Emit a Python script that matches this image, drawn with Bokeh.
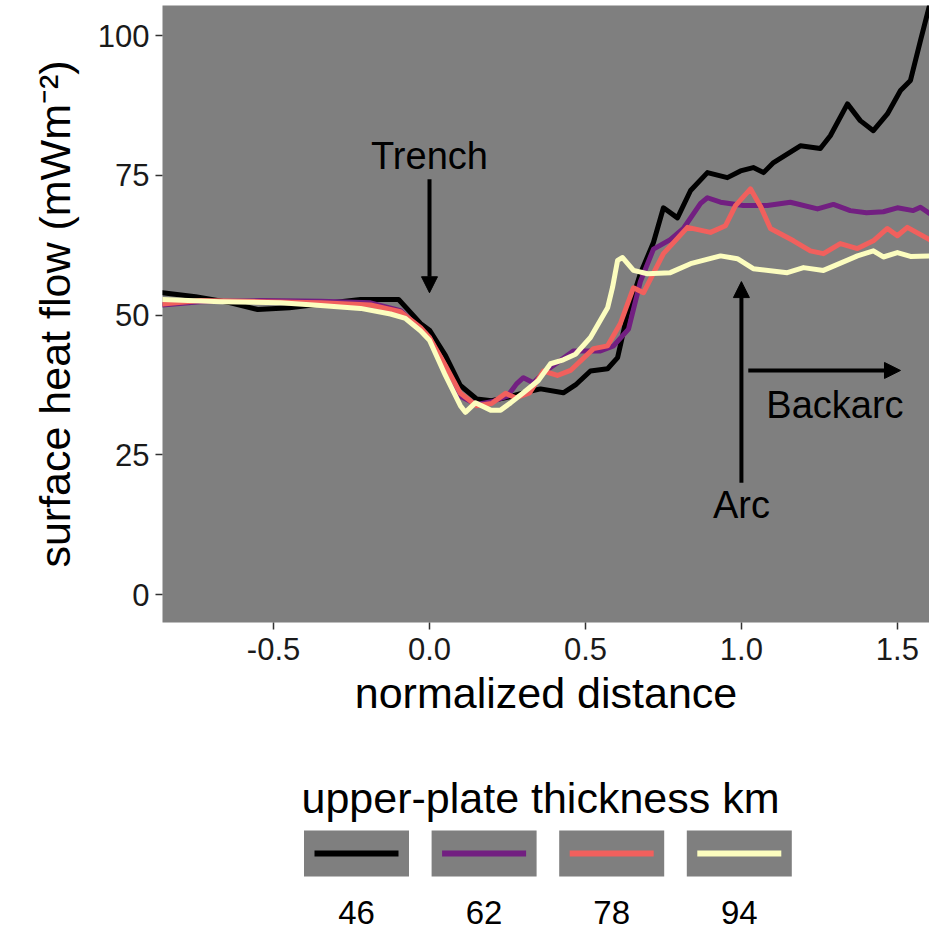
from bokeh.plotting import figure
from bokeh.models import Range1d, FixedTicker, NumeralTickFormatter, Arrow, NormalHead
from bokeh.layouts import column
from bokeh.embed import file_html
from bokeh.resources import INLINE
from bokeh.core.properties import value

FONT = "Liberation Sans"
PANEL = "#7f7f7f"

# ---- data ----
thickness = ["46", "62", "78", "94"]
colors = ["#000000", "#721F81", "#F1605D", "#FCFDBF"]

x46 = [-0.856, -0.75, -0.638, -0.551, -0.449, -0.349, -0.221, -0.099, -0.061, -0.029, 0.0, 0.051, 0.099, 0.151,
       0.199, 0.25, 0.301, 0.356, 0.429, 0.468, 0.516, 0.571, 0.603, 0.635, 0.676, 0.718, 0.75, 0.795, 0.837,
       0.891, 0.955, 0.997, 1.038, 1.071, 1.103, 1.189, 1.253, 1.285, 1.34, 1.381, 1.423, 1.468, 1.51, 1.542,
       1.574, 1.603]
y46 = [54.0, 53.3, 52.2, 51.0, 51.3, 52.0, 52.8, 52.8, 50.5, 48.5, 47.3, 42.8, 37.4, 35.0,
       34.7, 35.3, 36.1, 36.8, 36.1, 37.5, 40.0, 40.4, 42.4, 50.3, 57.4, 63.0, 69.2, 67.4, 72.3,
       75.5, 74.6, 75.8, 76.4, 75.5, 77.3, 80.3, 79.8, 82.1, 87.8, 84.8, 83.0, 86.0, 90.2, 92.0,
       99.1, 105.4]

x62 = [-0.856, -0.734, -0.542, -0.349, -0.189, -0.093, -0.038, 0.0, 0.051, 0.099, 0.151, 0.199, 0.25, 0.279,
       0.301, 0.333, 0.372, 0.42, 0.462, 0.548, 0.59, 0.638, 0.676, 0.718, 0.772, 0.814, 0.869, 0.891, 0.933,
       1.006, 1.083, 1.157, 1.244, 1.295, 1.349, 1.401, 1.455, 1.5, 1.551, 1.574, 1.603]
y62 = [51.8, 52.4, 52.6, 52.5, 52.2, 50.8, 48.0, 46.0, 40.0, 35.5, 34.0, 34.5, 35.5, 37.7,
       38.8, 37.9, 40.0, 41.9, 43.6, 43.6, 44.5, 47.5, 56.0, 61.8, 63.5, 65.5, 70.0, 71.0, 70.2,
       69.6, 69.6, 70.2, 69.0, 69.8, 68.7, 68.3, 68.5, 69.2, 68.7, 69.3, 68.2]

x78 = [-0.856, -0.734, -0.542, -0.349, -0.189, -0.093, -0.029, 0.0, 0.051, 0.099, 0.151, 0.199, 0.244, 0.276,
       0.321, 0.365, 0.41, 0.452, 0.526, 0.571, 0.612, 0.654, 0.686, 0.75, 0.827, 0.901, 0.949, 0.981, 1.029,
       1.061, 1.093, 1.167, 1.221, 1.263, 1.317, 1.372, 1.423, 1.468, 1.5, 1.532, 1.603]
y78 = [52.0, 52.6, 52.4, 52.2, 51.8, 50.6, 47.8, 46.0, 41.0, 36.0, 33.8, 34.2, 36.0, 35.2,
       36.1, 40.0, 39.2, 40.1, 44.0, 44.5, 48.5, 54.9, 54.0, 61.0, 65.7, 64.8, 66.0, 69.6, 72.6,
       69.5, 65.5, 63.3, 61.5, 61.0, 62.8, 61.9, 63.3, 65.5, 64.2, 65.7, 63.5]

x94 = [-0.856, -0.67, -0.478, -0.349, -0.221, -0.125, -0.077, -0.029, 0.0, 0.051, 0.099, 0.115, 0.147, 0.196,
       0.228, 0.26, 0.301, 0.349, 0.388, 0.429, 0.468, 0.516, 0.571, 0.587, 0.603, 0.619, 0.654, 0.699, 0.772,
       0.837, 0.933, 0.987, 1.038, 1.147, 1.199, 1.263, 1.372, 1.423, 1.455, 1.5, 1.542, 1.603]
y94 = [52.8, 52.4, 52.2, 51.7, 51.2, 50.2, 49.4, 47.2, 45.5, 39.2, 33.8, 32.6, 34.3, 33.0,
       33.0, 34.3, 36.1, 38.3, 41.3, 42.0, 43.0, 46.0, 51.3, 55.0, 59.8, 60.3, 58.0, 57.4, 57.6,
       59.2, 60.6, 60.1, 58.3, 57.6, 58.5, 58.0, 60.6, 61.5, 60.4, 61.2, 60.5, 60.6]

series_x = [x46, x62, x78, x94]
series_y = [y46, y62, y78, y94]

x_ticks = [-0.5, 0.0, 0.5, 1.0, 1.5]
y_ticks = [0, 25, 50, 75, 100]

# annotations: label, text position; arrows start/end
ann_labels = ["Trench", "Arc", "Backarc"]
ann_x = [0.0, 1.0, 1.30]
ann_y = [78.5, 16.0, 34.0]
arrow_x0 = [0.0, 1.0, 1.022]
arrow_y0 = [74.3, 20.0, 40.1]
arrow_x1 = [0.0, 1.0, 1.51]
arrow_y1 = [54.0, 56.0, 40.1]

# ---- main figure ----
p = figure(width=929, height=720, output_backend="svg", toolbar_location=None,
           x_range=Range1d(-0.856, 1.603), y_range=Range1d(-5.0, 105.4),
           min_border_left=162, min_border_right=0, min_border_top=5, min_border_bottom=98)
p.background_fill_color = PANEL
p.border_fill_color = "white"
p.outline_line_color = None
p.grid.visible = False

for xs, ys, c in zip(series_x, series_y, colors):
    p.line(xs, ys, line_color=c, line_width=5, line_join="round", line_cap="round")

for ax in (p.xaxis[0], p.yaxis[0]):
    ax.axis_line_color = None
    ax.major_tick_line_color = "#333333"
    ax.major_tick_line_width = 1.5
    ax.major_tick_out = 7
    ax.major_tick_in = 0
    ax.minor_tick_line_color = None
    ax.major_label_text_font = FONT
    ax.major_label_text_font_size = "31px"
    ax.major_label_text_color = "#1a1a1a"
    ax.axis_label_text_font = FONT
    ax.axis_label_text_font_style = "normal"
    ax.axis_label_text_color = "#000000"
    ax.axis_label_text_font_size = "43px"

p.xaxis.ticker = FixedTicker(ticks=x_ticks)
p.xaxis.formatter = NumeralTickFormatter(format="0.0")
p.yaxis.ticker = FixedTicker(ticks=y_ticks)
p.xaxis.axis_label = "normalized distance"
p.yaxis.axis_label = "surface heat flow (mWm\u207b\u00b2)"
p.xaxis.major_label_standoff = 8
p.yaxis.major_label_standoff = 6
p.xaxis.axis_label_standoff = 6
p.yaxis.axis_label_standoff = 16

p.text(ann_x, ann_y, text=ann_labels, text_font=value(FONT), text_font_size="38px",
       text_align="center", text_baseline="middle", text_color="black")
for x0, y0, x1, y1 in zip(arrow_x0, arrow_y0, arrow_x1, arrow_y1):
    p.add_layout(Arrow(x_start=x0, y_start=y0, x_end=x1, y_end=y1, line_width=4, line_color="black",
                       end=NormalHead(size=16, fill_color="black", line_color="black")))

# ---- legend figure (frame aligned with main frame: page x 162..929) ----
lg = figure(width=929, height=214, output_backend="svg", toolbar_location=None,
            x_range=Range1d(162, 929), y_range=Range1d(934, 720),
            min_border_left=162, min_border_right=0, min_border_top=0, min_border_bottom=0)
lg.axis.visible = False
lg.grid.visible = False
lg.outline_line_color = None
lg.background_fill_color = "white"
lg.border_fill_color = "white"

n = len(thickness)
key_cx = [356 + 127.6 * i for i in range(n)]
lg.rect(key_cx, [853] * n, width=105, height=46, fill_color=PANEL, line_color=None)
lg.segment([c - 42 for c in key_cx], [853] * n, [c + 42 for c in key_cx], [853] * n,
           line_color=colors, line_width=6)
lg.text(key_cx, [912] * n, text=thickness, text_font=value(FONT), text_font_size="33px",
        text_align="center", text_baseline="middle", text_color="black")
lg.text([301], [797], text=["upper-plate thickness km"], text_font=value(FONT), text_font_size="43px",
        text_align="left", text_baseline="middle", text_color="black")

layout = column(p, lg, spacing=0)
open("out.html", "w").write(file_html(layout, INLINE))
